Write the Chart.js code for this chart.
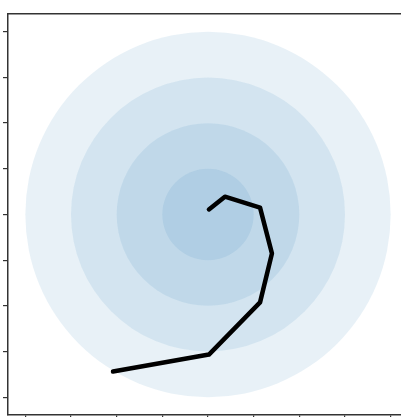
<!DOCTYPE html>
<html>
<head>
<meta charset="utf-8">
<script src="https://cdn.jsdelivr.net/npm/chart.js@4/dist/chart.umd.min.js"></script>
<style>
  html, body { margin: 0; padding: 0; background: #fff; overflow: hidden; }
  #wrap { width: 401px; height: 417px; overflow: hidden; }
</style>
</head>
<body>
<div id="wrap"><canvas id="spiralChart" width="420" height="425"></canvas></div>
<script>
// path of the walk (data units)
var pathX = [0.02, 0.37, 1.14, 1.40, 1.14, 0.02, -2.08];
var pathY = [0.11, 0.39, 0.15, -0.85, -1.92, -3.06, -3.43];

// shaded rings around the origin, radius in data units
var ringRadii = [4, 3, 2, 1];

var axisMin = -4.38;
var axisMax = 4.38;

function createSpiralChart() {
  var ctx = document.getElementById('spiralChart').getContext('2d');

  var pathPoints = pathX.map(function (x, i) { return { x: x, y: pathY[i] }; });
  var ringPoints = ringRadii.map(function () { return { x: 0, y: 0 }; });

  // radius of a ring in pixels, taken from the x scale
  function ringPixels(c) {
    var s = c.chart.scales.x;
    return Math.abs(s.getPixelForValue(ringRadii[c.dataIndex]) - s.getPixelForValue(0));
  }

  var frame = { display: true, color: '#333', width: 1.5 };

  var chart = new Chart(ctx, {
    type: 'scatter',
    data: {
      datasets: [{
        label: 'path',
        data: pathPoints,
        showLine: true,
        borderColor: '#000',
        borderWidth: 4.5,
        borderJoinStyle: 'round',
        borderCapStyle: 'round',
        pointRadius: 0,
        fill: false
      }, {
        label: 'rings',
        data: ringPoints,
        showLine: false,
        pointRadius: ringPixels,
        pointBackgroundColor: 'rgba(31, 119, 180, 0.1)',
        pointBorderWidth: 0,
        pointBorderColor: 'rgba(0, 0, 0, 0)'
      }]
    },
    options: {
      responsive: false,
      animation: false,
      events: [],
      layout: { padding: { left: 3, right: 12, top: 14, bottom: 5 } },
      plugins: {
        legend: { display: false },
        tooltip: { enabled: false }
      },
      scales: {
        x: {
          type: 'linear',
          position: 'bottom',
          min: axisMin,
          max: axisMax,
          ticks: { display: false, stepSize: 1, includeBounds: false },
          grid: { drawOnChartArea: false, drawTicks: true, tickLength: 5, tickColor: '#333', lineWidth: 1.2 },
          border: frame
        },
        y: {
          type: 'linear',
          position: 'left',
          min: axisMin,
          max: axisMax,
          ticks: { display: false, stepSize: 1, includeBounds: false },
          grid: { drawOnChartArea: false, drawTicks: true, tickLength: 5, tickColor: '#333', lineWidth: 1.2 },
          border: frame
        },
        xTop: {
          type: 'linear',
          position: 'top',
          min: axisMin,
          max: axisMax,
          ticks: { display: false },
          grid: { display: false, drawTicks: false },
          border: frame
        },
        yRight: {
          type: 'linear',
          position: 'right',
          min: axisMin,
          max: axisMax,
          ticks: { display: false },
          grid: { display: false, drawTicks: false },
          border: frame
        }
      }
    }
  });
  return chart;
}

createSpiralChart();
</script>
</body>
</html>
